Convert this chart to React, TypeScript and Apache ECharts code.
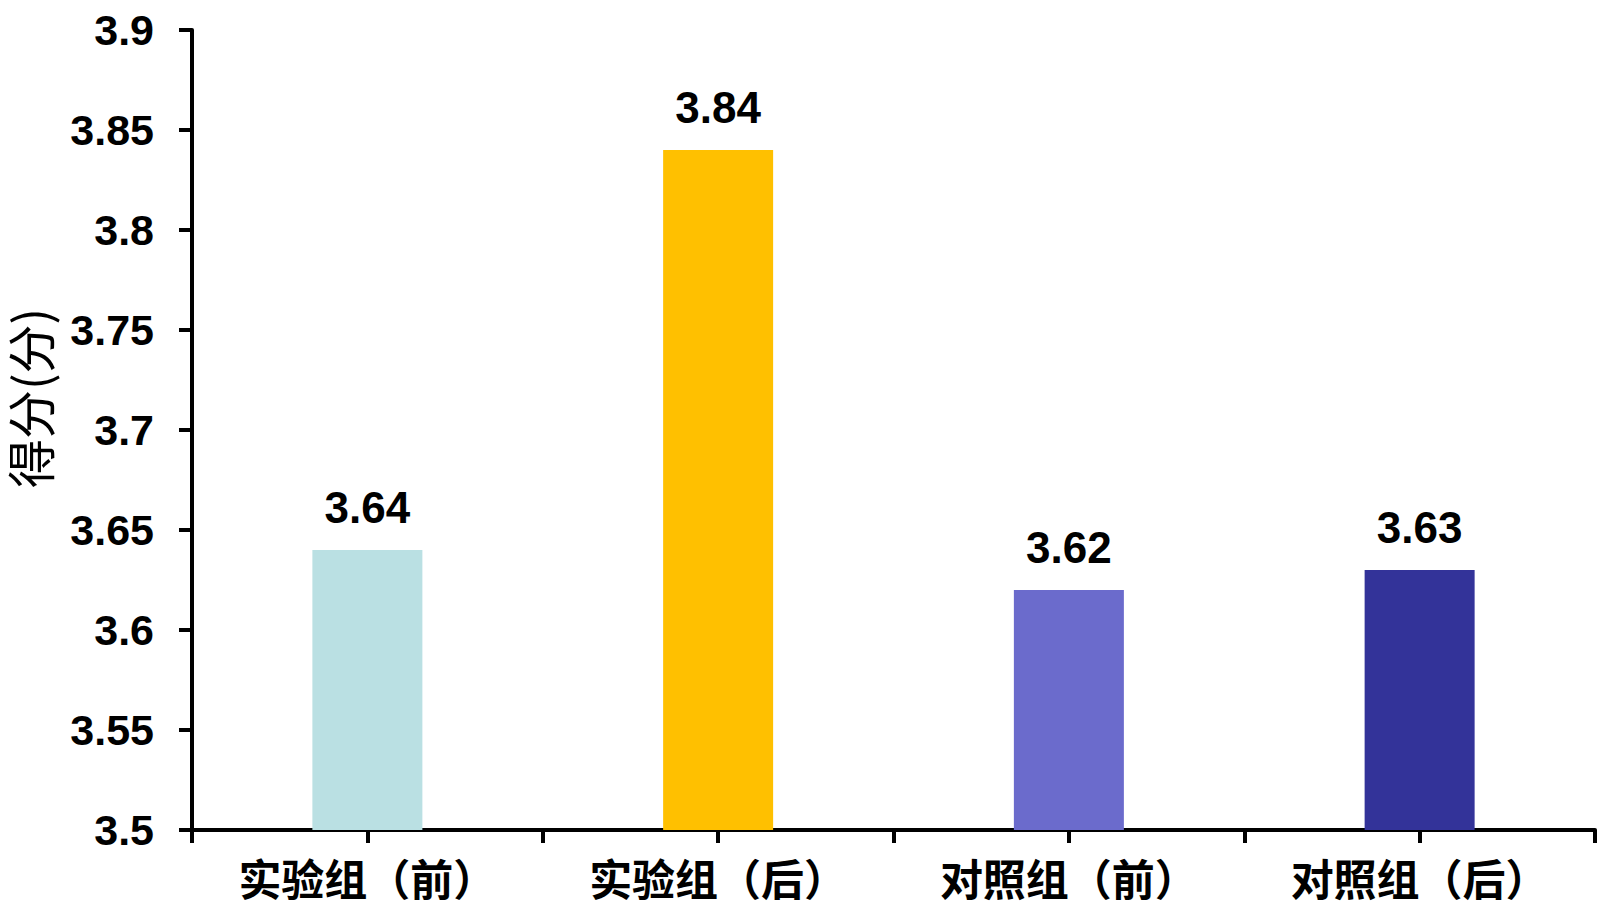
import React, { useEffect, useRef } from "react";
import * as echarts from "echarts";

const categories = ["实验组（前）", "实验组（后）", "对照组（前）", "对照组（后）"];
const scores = [3.64, 3.84, 3.62, 3.63];
const barColors = ["#BAE0E3", "#FFC000", "#6B6BCC", "#333399"];
const yAxisName = "得分(分)";

export default function App() {
  const ref = useRef<HTMLDivElement>(null);
  useEffect(() => {
    if (!ref.current) return;
    const chart = echarts.init(ref.current, undefined, { renderer: "svg" });
    const num = "'Liberation Sans', Arial, sans-serif";
    const cjk = "'Noto Sans CJK SC', sans-serif";
    chart.setOption({
      animation: false,
      backgroundColor: "#ffffff",
      grid: { left: 192, top: 30, right: 5, bottom: 80, containLabel: false },
      xAxis: [
        {
          type: "category",
          data: categories,
          axisLine: { show: true, lineStyle: { color: "#000", width: 4 } },
          axisTick: { show: false },
          axisLabel: {
            interval: 0,
            margin: 25,
            fontSize: 43,
            lineHeight: 44,
            fontFamily: cjk,
            fontWeight: "bold",
            color: "#000",
          },
        },
        {
          type: "value",
          position: "bottom",
          min: 0,
          max: 8,
          interval: 1,
          axisLine: { show: false },
          axisTick: { show: true, length: 13, lineStyle: { color: "#000", width: 4 } },
          axisLabel: { show: false },
          splitLine: { show: false },
        },
      ],
      yAxis: {
        type: "value",
        min: 3.5,
        max: 3.9,
        interval: 0.05,
        axisLine: { show: true, lineStyle: { color: "#000", width: 4 } },
        axisTick: { show: true, length: 13, lineStyle: { color: "#000", width: 4 } },
        splitLine: { show: false },
        axisLabel: {
          margin: 38,
          fontSize: 43,
          fontWeight: "bold",
          fontFamily: num,
          color: "#000",
        },
      },
      graphic: [
        {
          type: "text",
          x: 28,
          y: 398,
          rotation: Math.PI / 2,
          style: {
            text: yAxisName,
            fontSize: 49,
            lineHeight: 52,
            fontFamily: cjk,
            fill: "#000",
            align: "center",
            verticalAlign: "middle",
          },
        },
      ],
      series: [
        {
          type: "bar",
          xAxisIndex: 0,
          barWidth: 110,
          data: scores.map((v, i) => ({ value: v, itemStyle: { color: barColors[i] } })),
          label: {
            show: true,
            position: "top",
            distance: 21,
            fontSize: 44,
            fontWeight: "bold",
            fontFamily: num,
            color: "#000",
          },
        },
      ],
    });
    return () => chart.dispose();
  }, []);
  return (
    <div
      ref={ref}
      style={{ position: "absolute", left: 0, top: 0, width: 1600, height: 910, background: "#fff" }}
    />
  );
}
